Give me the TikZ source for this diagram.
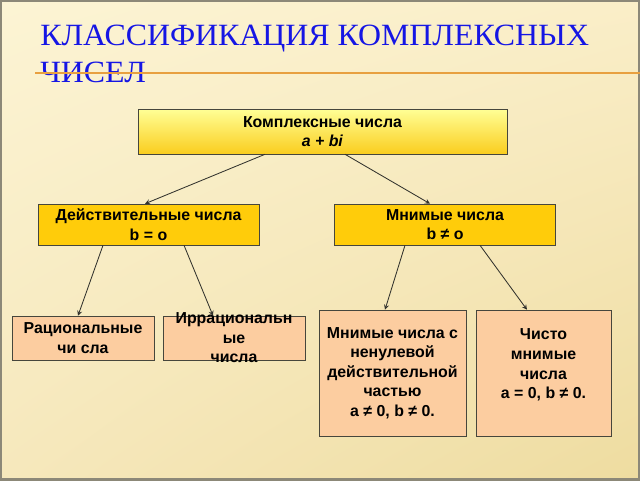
\documentclass[tikz,border=0pt]{standalone}
\usepackage{fontspec}
\setmainfont{Liberation Sans}
\newfontfamily\titlefont[FakeStretch=1.03]{Liberation Serif}
\usepackage{tikz}
\usetikzlibrary{arrows}
\usetikzlibrary{shapes}
\usetikzlibrary{shadings}
\usetikzlibrary{positioning}
\definecolor{titleblue}{RGB}{22,22,228}
\definecolor{ruleorange}{RGB}{232,160,64}
\definecolor{boxline}{RGB}{70,70,60}
\definecolor{arrowgray}{RGB}{50,50,45}
\definecolor{lightyellow}{RGB}{255,255,150}
\definecolor{deepyellow}{RGB}{250,205,30}
\definecolor{gold}{RGB}{255,204,10}
\definecolor{peach}{RGB}{252,205,160}
\definecolor{bgA}{RGB}{252,244,212}
\definecolor{bgB}{RGB}{250,238,200}
\definecolor{bgC}{RGB}{246,232,188}
\definecolor{bgD}{RGB}{238,220,160}
\definecolor{framegray}{RGB}{140,136,120}
\tikzstyle{topbox}=[rectangle,draw=boxline,top color=lightyellow,bottom color=deepyellow,align=center,minimum width=9.225cm,minimum height=1.125cm,inner sep=0mm,font=\bfseries\fontsize{11.3}{13.9}\selectfont]
\tikzstyle{midbox}=[rectangle,draw=boxline,fill=gold,align=center,minimum width=5.525cm,minimum height=1.025cm,inner sep=0mm,font=\bfseries\fontsize{11.3}{13.9}\selectfont]
\tikzstyle{lowbox}=[rectangle,draw=boxline,fill=peach,align=center,inner sep=0mm,font=\bfseries\fontsize{11.3}{13.9}\selectfont]
\tikzstyle{boxtext}=[align=center,inner sep=0mm,font=\bfseries\fontsize{11.3}{13.9}\selectfont]
\tikzstyle{heading}=[anchor=base west,inner sep=0mm,text=titleblue,font=\titlefont\fontsize{22}{26}\selectfont]
\tikzstyle{arrow}=[->,>=stealth,line width=0.6pt,draw=arrowgray]

\begin{document}
\begin{tikzpicture}
    \useasboundingbox (0,0) rectangle (16,12);
    \shade[upper left=bgA,upper right=bgB,lower left=bgC,lower right=bgD] (0,0) rectangle (16,12);
    \draw[framegray,line width=3pt] (0,0) rectangle (16,12);
    % title
    \node[heading] at (1.0,10.85) (title1) {КЛАССИФИКАЦИЯ КОМПЛЕКСНЫХ};
    \node[heading] at (1.0,9.925) (title2) {ЧИСЕЛ};
    \draw[ruleorange,line width=1.2pt] (0.875,10.175) -- (16,10.175);
    % boxes
    \node[topbox] at (8.0625,8.7125) (complex) {Комплексные числа\\\textit{a + bi}};
    \node[midbox] at (3.7125,6.3875) (real) {Действительные числа\\b = o};
    \node[midbox] at (11.125,6.3875) (imag) {Мнимые числа\\b ≠ o};
    \node[lowbox,minimum width=3.55cm,minimum height=1.1cm] at (2.075,3.55) (rational) {Рациональные\\чи сла};
    \node[lowbox,minimum width=3.55cm,minimum height=1.1cm] at (5.85,3.55) (irrational) {};
    \node[boxtext] at (irrational.center) (irrtext) {Иррациональн\\ые\\числа};
    \node[lowbox,minimum width=3.675cm,minimum height=3.15cm] at (9.8125,2.675) (mixed) {Мнимые числа с\\ненулевой\\действительной\\частью\\a ≠ 0, b ≠ 0.};
    \node[lowbox,minimum width=3.375cm,minimum height=3.15cm] at (13.5875,2.675) (pure) {};
    \node[boxtext] at (13.5875,2.875) (puretext) {Чисто\\мнимые\\числа\\a = 0, b ≠ 0.};
    % arrows
    \draw[arrow] ([xshift=-1.4375cm]complex.south) -- ([xshift=-0.0875cm]real.north);
    \draw[arrow] ([xshift=0.5625cm]complex.south) -- ([xshift=-0.375cm]imag.north);
    \draw[arrow] ([xshift=-1.1375cm]real.south) -- ([xshift=-0.125cm]rational.north);
    \draw[arrow] ([xshift=0.8875cm]real.south) -- ([xshift=-0.525cm]irrational.north);
    \draw[arrow] ([xshift=-1cm]imag.south) -- ([xshift=-0.1875cm]mixed.north);
    \draw[arrow] ([xshift=0.875cm]imag.south) -- ([xshift=-0.4125cm]pure.north);
\end{tikzpicture}
\end{document}
